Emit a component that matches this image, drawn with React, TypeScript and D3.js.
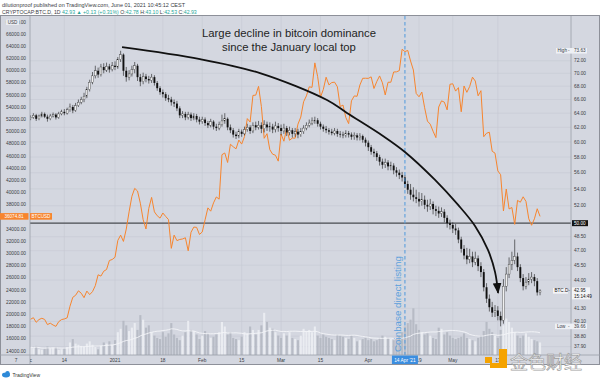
import React from "react";
import * as d3 from "d3";

// ---------- DATA ----------
const START_DATE = "2020-12-02";
const dominanceOpenFirst = 63.2;
const dominanceClose = [
  63.4, 63.7, 63.2, 63.6, 63.9, 63.5, 63.2, 63.6, 63.8, 63.4,
  63.9, 64.2, 64.0, 64.5, 64.9, 64.4, 65.1, 65.6, 66.0, 66.5,
  67.5, 68.6, 69.6, 70.4, 69.8, 71.0, 70.5, 71.1, 70.6, 71.2,
  71.0, 72.2, 73.0, 70.4, 69.4, 69.9, 70.6, 71.2, 69.4, 68.7,
  69.5, 69.1, 68.9, 69.4, 68.5, 67.7, 67.1, 66.8, 66.2, 66.0,
  65.6, 65.4, 64.7, 63.7, 63.9, 63.4, 63.8, 63.3, 63.6, 63.1,
  62.8, 63.1, 62.6, 62.3, 62.8, 62.1, 61.9, 62.4, 62.9, 63.2,
  62.0, 61.6, 61.0, 60.8, 61.4, 61.1, 61.7, 62.0, 61.5, 62.3,
  62.0, 62.3, 61.8, 62.4, 62.0, 62.1, 61.7, 62.2, 61.9, 61.5,
  61.9, 61.3, 61.6, 61.1, 61.4, 61.0, 61.4, 61.9, 62.3, 62.6,
  62.9, 63.0, 62.5, 62.1, 61.8, 61.6, 61.4, 61.2, 61.5, 61.1,
  61.0, 60.9, 61.2, 61.0, 60.7, 60.9, 60.6, 60.8, 60.3, 59.9,
  59.3, 58.7, 58.5, 58.0, 57.4, 57.0, 57.3, 56.8, 56.9, 56.3,
  56.0, 55.7, 55.4, 54.6, 53.9, 53.3, 53.0, 52.8, 52.5, 52.7,
  52.1, 51.9, 52.2, 51.6, 51.4, 51.1, 51.3, 50.6, 50.0, 49.8,
  49.4, 49.2, 48.2, 47.2, 46.5, 46.1, 46.4, 45.8, 46.2, 45.4,
  44.8, 43.3, 42.2, 41.4, 40.9, 41.1, 40.6, 40.2, 43.4, 44.6,
  45.6, 46.0, 46.4, 45.3, 44.2, 43.4, 43.8, 44.1, 44.3, 43.9,
  42.8, 42.95,
];
const dominanceHigh = [
  63.7, 64.0, 63.9, 63.8, 64.2, 64.1, 63.8, 63.9, 64.1, 64.0,
  64.2, 64.5, 64.6, 64.8, 65.4, 65.2, 65.5, 66.0, 66.4, 67.0,
  67.9, 69.0, 70.2, 71.2, 70.9, 71.5, 71.6, 71.7, 71.5, 71.8,
  71.9, 72.6, 73.63, 73.2, 71.0, 70.5, 71.2, 71.8, 71.5, 69.9,
  70.1, 69.9, 69.6, 69.9, 69.7, 68.8, 68.0, 67.5, 67.1, 66.7,
  66.4, 66.0, 65.8, 65.0, 64.3, 64.2, 64.2, 64.1, 64.0, 63.9,
  63.5, 63.5, 63.4, 62.9, 63.2, 63.0, 62.5, 62.8, 63.8, 64.0,
  63.4, 62.4, 61.9, 61.4, 61.8, 61.7, 62.1, 62.5, 62.3, 62.7,
  62.8, 62.9, 62.7, 63.0, 62.8, 62.7, 62.5, 62.8, 62.6, 62.4,
  62.5, 62.2, 62.1, 61.9, 61.9, 61.8, 61.9, 62.3, 62.7, 63.1,
  63.4, 63.5, 63.3, 62.8, 62.4, 62.2, 61.9, 61.8, 61.9, 61.8,
  61.5, 61.4, 61.6, 61.5, 61.3, 61.3, 61.2, 61.2, 61.0, 60.6,
  60.2, 59.6, 59.1, 58.8, 58.3, 57.8, 57.8, 57.6, 57.4, 57.2,
  56.7, 56.4, 56.1, 55.7, 55.0, 54.6, 54.2, 53.9, 53.6, 53.5,
  53.2, 52.7, 52.8, 52.5, 52.0, 51.9, 51.8, 51.6, 50.9, 50.4,
  50.1, 49.9, 49.5, 48.5, 47.6, 47.3, 47.2, 46.9, 46.9, 46.5,
  45.8, 45.1, 43.7, 42.6, 41.9, 41.6, 41.5, 41.0, 44.1, 45.3,
  46.3, 46.9, 48.2, 46.8, 45.6, 44.6, 44.3, 44.7, 44.8, 44.6,
  44.2, 43.1,
];
const dominanceLow = [
  63.0, 63.2, 62.9, 63.0, 63.4, 63.3, 62.8, 63.0, 63.4, 63.1,
  63.2, 63.7, 63.7, 63.8, 64.2, 64.0, 64.2, 64.9, 65.3, 65.6,
  66.2, 67.2, 68.3, 69.2, 69.3, 69.5, 70.0, 70.2, 70.1, 70.3,
  70.5, 70.7, 71.8, 69.6, 68.7, 68.9, 69.5, 70.0, 68.8, 68.0,
  68.3, 68.6, 68.4, 68.5, 68.1, 67.3, 66.7, 66.3, 65.8, 65.6,
  65.1, 64.9, 64.3, 63.3, 63.3, 63.0, 63.1, 62.9, 63.0, 62.7,
  62.4, 62.5, 62.2, 61.9, 62.0, 61.7, 61.5, 61.6, 62.1, 62.5,
  61.6, 61.2, 60.6, 60.4, 60.5, 60.7, 60.9, 61.4, 61.1, 61.2,
  61.6, 61.7, 61.2, 61.3, 61.5, 61.4, 61.2, 61.3, 61.4, 60.9,
  61.1, 60.8, 60.9, 60.6, 60.7, 60.5, 60.7, 61.1, 61.6, 62.0,
  62.3, 62.5, 62.1, 61.7, 61.4, 61.2, 61.0, 60.9, 60.9, 60.7,
  60.6, 60.5, 60.6, 60.6, 60.3, 60.3, 60.2, 60.2, 59.9, 59.4,
  58.8, 58.3, 58.0, 57.5, 56.9, 56.5, 56.6, 56.3, 56.3, 55.8,
  55.5, 55.2, 54.9, 54.1, 53.4, 52.7, 52.5, 52.3, 51.9, 52.0,
  51.6, 51.3, 51.5, 51.0, 50.8, 50.6, 50.7, 50.1, 49.5, 49.3,
  48.9, 48.7, 47.8, 46.8, 46.1, 45.6, 45.7, 45.3, 45.5, 44.9,
  44.3, 42.9, 41.8, 41.0, 40.5, 40.5, 40.2, 39.66, 39.9, 42.9,
  44.2, 45.0, 45.6, 44.9, 43.8, 43.0, 43.1, 43.5, 43.7, 43.4,
  42.5, 42.53,
];
const btcUsdClose = [
  // Dec 2 - Dec 31
  19200, 19450, 18700, 19150, 19360, 19170, 18320, 18550, 18250, 18030,
  18800, 19140, 19250, 19430, 21330, 22800, 23130, 23860, 23470, 22740,
  23820, 23240, 23730, 24710, 26490, 26280, 27080, 27360, 28840, 29000,
  // Jan
  29370, 32130, 33000, 31970, 33990, 36820, 39370, 40670, 40240, 38240,
  35540, 34010, 37390, 39190, 36820, 36180, 35790, 36630, 36070, 35550,
  30830, 33000, 32100, 32290, 32370, 32570, 30430, 33470, 34320, 34270, 33110,
  // Feb
  33520, 35510, 37470, 36930, 38290, 39260, 38900, 46200, 46480, 44920,
  47910, 47500, 47160, 48600, 47940, 49160, 52120, 51550, 55920, 55970,
  57410, 54090, 48890, 49650, 47020, 46280, 46110, 45140,
  // Mar
  49590, 48410, 50540, 48560, 48930, 48910, 51210, 52370, 54880, 55850,
  57330, 57250, 61260, 59000, 55630, 56900, 58910, 57650, 58030, 58100,
  57350, 54100, 54340, 52300, 51300, 55030, 55840, 55780, 57630, 58730, 58740,
  // Apr
  58720, 58970, 57060, 58200, 59120, 57990, 56000, 58080, 58090, 59770,
  59790, 59990, 63500, 63110, 63310, 61570, 60100, 56250, 55700, 56470,
  53900, 51700, 51200, 50050, 49000, 54020, 55030, 54820, 53550, 57750,
  // May
  57830, 56630, 57200, 53240, 57470, 56430, 57380, 58920, 58280, 55860,
  56700, 49150, 49720, 49880, 46760, 46450, 43540, 42910, 36960, 40560,
  37300, 37530, 34770, 38700, 38400, 39290, 38530, 35680, 34620, 35680, 37330,
  // Jun 1
  36074.81,
];
const volume = [
  14, 12, 16, 10, 9, 11, 15, 12, 13, 14, 9,
  10, 12, 14, 22, 28, 20, 18, 16, 15, 20, 24, 18, 14, 10, 16, 22, 20, 24, 18,
  26, 40, 46, 60, 52, 42, 48, 56, 44, 70, 62, 48, 52, 40, 34, 30,
  28, 40, 32, 38, 56, 36, 30, 26, 34, 40, 60, 44, 42, 36, 28,
  34, 42, 38, 30, 32, 36, 40, 58, 50, 36, 40, 30, 28, 26, 32, 40, 38, 50, 44, 36, 44, 52, 74, 58, 48, 46, 40, 34, 30,
  38, 34, 40, 30, 28, 26, 34, 46, 42, 44, 40, 50, 34, 30, 36, 32, 30, 28, 26, 36, 34, 32, 30, 28, 34, 30, 24, 26, 28, 30, 26,
  28, 24, 26, 30, 34, 32, 30, 28, 26, 30, 34, 40, 50, 56, 62, 82, 54, 44, 40, 36, 38, 34, 30, 28, 48, 46, 36, 40, 34, 30,
  28, 30, 32, 38, 30, 28, 26, 24, 30, 34, 42, 58, 46, 40, 34, 30, 44, 52, 64, 58, 48, 40, 34, 30, 34, 38, 32, 28, 26, 24, 22,
];

const leftTickValues = [68000, 66000, 64000, 62000, 60000, 58000, 56000, 54000, 52000, 50000, 48000, 46000, 44000, 42000, 40000, 38000, 34000, 32000, 30000, 28000, 26000, 24000, 22000, 20000, 18000, 16000, 14000];
const rightTickValues = [72, 70, 68, 66, 64, 62, 60, 58, 56, 54, 52, 48.5, 47, 45.5, 44, 41.3, 40.1, 38.8, 37.9];
const timeTickDates = ["2020-12-01", "2020-12-14", "2021-01-01", "2021-01-18", "2021-02-01", "2021-02-15", "2021-03-01", "2021-03-15", "2021-04-01", "2021-04-19", "2021-05-01", "2021-05-17"];
const timeTickLabels = ["Dec", "14", "2021", "18", "Feb", "15", "Mar", "15", "Apr", "19", "May", "17"];

const listingDate = "2021-04-14";
const listingLabel = "Coinbase direct listing";
const levelLine = 50;
const dominanceHighLabel = 73.63;
const dominanceLowLabel = 39.66;
const lastDominance = 42.95;
const lastUsd = 36074.81;

// annotation arrow anchors (day offset from start, dominance value)
const arrowDays = [32.5, 60.2, 81.5, 105.3, 112.4, 125.2, 133.0, 143.7, 151.9, 157.9, 162.5, 165.0, 166.1];
const arrowDominance = [74.24, 72.27, 70.04, 65.93, 64.04, 60.82, 58.67, 55.1, 52.09, 49.69, 47.09, 44.82, 42.76];

const titleLines = ["Large decline in bitcoin dominance", "since the January local top"];

// ---------- CHART ----------
const FONT = "'Liberation Sans', Arial, sans-serif";

export default function App() {
  const L = 30, R = 571, T = 16, B = 355;
  const parse = d3.utcParse("%Y-%m-%d");
  const start = parse(START_DATE) as Date;
  const dates = dominanceClose.map((_, i) => d3.utcDay.offset(start, i));
  const DAYMS = 86400000;

  const x = d3
    .scaleUtc()
    .domain([new Date(+start - 0.2 * DAYMS), d3.utcDay.offset(start, 192)])
    .range([L, R]);
  const yDom = d3.scaleLog().domain([37.19, 79.7]).range([B, 15.5]);
  const yUsd = d3.scaleLinear().domain([13333, 68953]).range([B, T]);
  const yVol = d3.scaleLinear().domain([0, 100]).range([B, 298]);

  const opens = dominanceClose.map((c, i) => (i === 0 ? dominanceOpenFirst : dominanceClose[i - 1]));

  const usdPath = d3
    .line<number>()
    .x((_, i) => x(dates[i]))
    .y((v) => yUsd(v))(btcUsdClose) as string;

  const maLen = 20;
  const volMA = volume.map((_, i) => {
    const s = volume.slice(Math.max(0, i - maLen + 1), i + 1);
    return d3.mean(s) as number;
  });
  const maPath = d3
    .line<number>()
    .x((_, i) => x(dates[i]))
    .y((v) => yVol(v))(volMA) as string;

  const arrowPts = arrowDays.map((d, i) => [x(new Date(+start + d * DAYMS)), yDom(arrowDominance[i])] as [number, number]);
  const arrowPath = d3.line().curve(d3.curveCatmullRom.alpha(0.5))(arrowPts) as string;

  const tickDates = timeTickDates.map((s) => parse(s) as Date);
  const listX = x(parse(listingDate) as Date);
  const bodyW = 1.9;
  const volW = 2.1;

  const gridColor = "#c6cad4";
  const bg = "#d4d7e0";
  const txt = "#3a3d45";

  return (
    <svg width={600} height={380} style={{ position: "absolute", left: 0, top: 0, background: "#ffffff" }} fontFamily={FONT}>
      <defs>
        <clipPath id="plot">
          <rect x={L} y={T} width={R - L} height={B - T} />
        </clipPath>
        <clipPath id="timeaxis">
          <rect x={L} y={B} width={R - L} height={10} />
        </clipPath>
        <marker id="head" viewBox="0 0 10 8" refX={9} refY={4} markerWidth={11} markerHeight={9} markerUnits="userSpaceOnUse" orient="auto">
          <path d="M0,0 L10,4 L0,8 Z" fill="#111" />
        </marker>
      </defs>

      {/* header */}
      <text x={2} y={7} fontSize={5.5} fill={txt}>
        dilutionproof published on TradingView.com, June 01, 2021 10:45:12 CEST
      </text>
      <text x={2} y={13.5} fontSize={5.2} fill={txt}>
        <tspan>CRYPTOCAP:BTC.D, 1D</tspan>
        <tspan fill="#26a69a"> 42.93 ▲ +0.13 (+0.31%)</tspan>
        <tspan> O:</tspan>
        <tspan fill="#26a69a">42.78</tspan>
        <tspan> H:</tspan>
        <tspan fill="#26a69a">43.10</tspan>
        <tspan> L:</tspan>
        <tspan fill="#26a69a">42.53</tspan>
        <tspan> C:</tspan>
        <tspan fill="#26a69a">42.93</tspan>
      </text>

      {/* frame */}
      <rect x={0.5} y={15.5} width={599} height={349} fill={bg} stroke="#8d9099" strokeWidth={1} />

      {/* grid */}
      <g stroke={gridColor} strokeWidth={0.6}>
        {rightTickValues.concat([levelLine]).map((v) => (
          <line key={"h" + v} x1={L} x2={R} y1={yDom(v)} y2={yDom(v)} />
        ))}
        {tickDates.map((d, i) =>
          x(d) > L ? <line key={"v" + i} x1={x(d)} x2={x(d)} y1={T} y2={B} /> : null
        )}
      </g>

      <g clipPath="url(#plot)">
        {/* volume */}
        {volume.map((v, i) => (
          <rect
            key={"vol" + i}
            x={x(dates[i]) - volW / 2}
            y={yVol(v)}
            width={volW}
            height={B - yVol(v)}
            fill={dominanceClose[i] >= opens[i] ? "#eceef3" : "#b4b8c2"}
            opacity={0.9}
          />
        ))}
        <path d={maPath} fill="none" stroke="#f4f5f8" strokeWidth={0.9} />

        {/* level line */}
        <line x1={L} x2={R} y1={yDom(levelLine)} y2={yDom(levelLine)} stroke="#4a4c52" strokeWidth={1.3} />

        {/* BTCUSD line */}
        <path d={usdPath} fill="none" stroke="#f7852e" strokeWidth={1} />

        {/* candles */}
        {dominanceClose.map((c, i) => {
          const o = opens[i];
          const cx = x(dates[i]);
          const up = c >= o;
          const yTop = yDom(Math.max(o, c));
          const yBot = yDom(Math.min(o, c));
          return (
            <g key={"c" + i}>
              <line x1={cx} x2={cx} y1={yDom(dominanceHigh[i])} y2={yDom(dominanceLow[i])} stroke="#1a1a1a" strokeWidth={0.6} />
              <rect
                x={cx - bodyW / 2}
                y={yTop}
                width={bodyW}
                height={Math.max(0.7, yBot - yTop)}
                fill={up ? "#f0f0f0" : "#111111"}
                stroke={up ? "#2a2a2a" : "none"}
                strokeWidth={0.35}
              />
            </g>
          );
        })}

        {/* listing line */}
        <line x1={listX} x2={listX} y1={T} y2={B} stroke="#5b9fdc" strokeWidth={1.1} strokeDasharray="3.5,2.5" />
        <text
          transform={`translate(${listX - 4},${B - 3}) rotate(-90)`}
          fontSize={9.8}
          fill="#5b9fdc"
        >
          {listingLabel}
        </text>

        {/* arrow */}
        <path d={arrowPath} fill="none" stroke="#111" strokeWidth={1.8} markerEnd="url(#head)" />
      </g>

      {/* title */}
      <text x={289} y={37} fontSize={11.3} textAnchor="middle" fill="#1e1f24">
        {titleLines[0]}
      </text>
      <text x={289} y={50.5} fontSize={11.3} textAnchor="middle" fill="#1e1f24">
        {titleLines[1]}
      </text>

      {/* axis separators */}
      <line x1={L} x2={L} y1={T} y2={364} stroke="#9a9ea8" strokeWidth={0.8} />
      <line x1={R} x2={R} y1={T} y2={364} stroke="#9a9ea8" strokeWidth={0.8} />
      <line x1={0} x2={600} y1={B} y2={B} stroke="#9a9ea8" strokeWidth={0.8} />

      {/* left axis labels */}
      <g fontSize={4.8} fill={txt} textAnchor="middle">
        {leftTickValues.map((v) => (
          <text key={"l" + v} x={16} y={yUsd(v) + 1.7}>
            {d3.format(".2f")(v)}
          </text>
        ))}
      </g>
      <rect x={6} y={19.5} width={13} height={5.5} fill="#e9ebf0" />
      <text x={12.5} y={23.7} fontSize={4.6} textAnchor="middle" fill={txt}>USD</text>

      {/* right axis labels */}
      <g fontSize={4.8} fill={txt}>
        {rightTickValues.map((v) => (
          <text key={"r" + v} x={574} y={yDom(v) + 1.7}>
            {d3.format(".2f")(v)}
          </text>
        ))}
      </g>

      {/* time axis labels */}
      <g fontSize={4.8} fill={txt} textAnchor="middle" clipPath="url(#timeaxis)">
        {tickDates.map((d, i) => (
          <text key={"t" + i} x={x(d)} y={361.5}>
            {timeTickLabels[i]}
          </text>
        ))}
      </g>
      <text x={16} y={361.5} fontSize={4.8} fill={txt} textAnchor="middle">7</text>
      <rect x={listX - 13} y={355.5} width={26} height={8.5} fill="#3b8ee0" />
      <text x={listX} y={361.5} fontSize={4.8} fill="#fff" textAnchor="middle">14 Apr '21</text>

      {/* tags */}
      <g fontSize={4.6}>
        {/* high */}
        <rect x={556} y={yDom(dominanceHighLabel) - 2.8} width={31} height={5.6} fill="#eef0f5" />
        <text x={557.5} y={yDom(dominanceHighLabel) + 1.6} fill={txt}>High</text>
        <text x={568} y={yDom(dominanceHighLabel) + 1.6} fill={txt}>-</text>
        <text x={574} y={yDom(dominanceHighLabel) + 1.6} fill={txt}>{dominanceHighLabel.toFixed(2)}</text>
        {/* level */}
        <rect x={572} y={yDom(levelLine) - 3} width={16} height={6} fill="#131313" />
        <text x={574} y={yDom(levelLine) + 1.6} fill="#fff">{levelLine.toFixed(2)}</text>
        {/* last */}
        <rect x={553} y={yDom(lastDominance) - 2.8} width={15} height={5.6} fill="#f3f4f7" />
        <text x={554.5} y={yDom(lastDominance) + 1.6} fill="#111">BTC.D</text>
        <text x={568.5} y={yDom(lastDominance) + 1.6} fill={txt}>-</text>
        <rect x={572} y={yDom(lastDominance) - 3.5} width={18} height={12} fill="#f3f4f7" />
        <text x={574} y={yDom(lastDominance) + 1.6} fill="#111">{lastDominance.toFixed(2)}</text>
        <text x={574} y={yDom(lastDominance) + 7.6} fill="#111">15:14:49</text>
        {/* low */}
        <rect x={555} y={yDom(dominanceLowLabel) - 2.8} width={32} height={5.6} fill="#eef0f5" />
        <text x={557} y={yDom(dominanceLowLabel) + 1.6} fill={txt}>Low</text>
        <text x={568} y={yDom(dominanceLowLabel) + 1.6} fill={txt}>-</text>
        <text x={574} y={yDom(dominanceLowLabel) + 1.6} fill={txt}>{dominanceLowLabel.toFixed(2)}</text>
        {/* usd */}
        <rect x={0} y={yUsd(lastUsd) - 3.3} width={28.5} height={6.6} fill="#f7852e" />
        <text x={14} y={yUsd(lastUsd) + 1.6} fill="#fff" textAnchor="middle">{lastUsd.toFixed(2)}</text>
        <rect x={30} y={yUsd(lastUsd) - 3.3} width={22} height={6.6} fill="#f7852e" />
        <text x={41} y={yUsd(lastUsd) + 1.6} fill="#fff" textAnchor="middle">BTCUSD</text>
      </g>

      {/* TradingView logo */}
      <g>
        <ellipse cx={6} cy={375} rx={4} ry={2.4} fill="#2e8ad8" />
        <circle cx={7.5} cy={373.3} r={2.2} fill="#2e8ad8" />
        <text x={12.5} y={377} fontSize={5} fill="#333">TradingView</text>
      </g>

      {/* watermark */}
      <g>
        <rect x={485} y={357} width={7} height={6} fill="#f5a300" />
        <rect x={499} y={349} width={8} height={19} fill="#f5a300" />
        <rect x={490} y={363} width={17} height={5} fill="#f5a300" />
        <text x={510} y={369} fontSize={18} fontFamily="'Noto Sans CJK SC'" fill="#ffffff" stroke="#9a9a9a" strokeWidth={0.7} opacity={0.95}>
          金色财经
        </text>
      </g>
    </svg>
  );
}
